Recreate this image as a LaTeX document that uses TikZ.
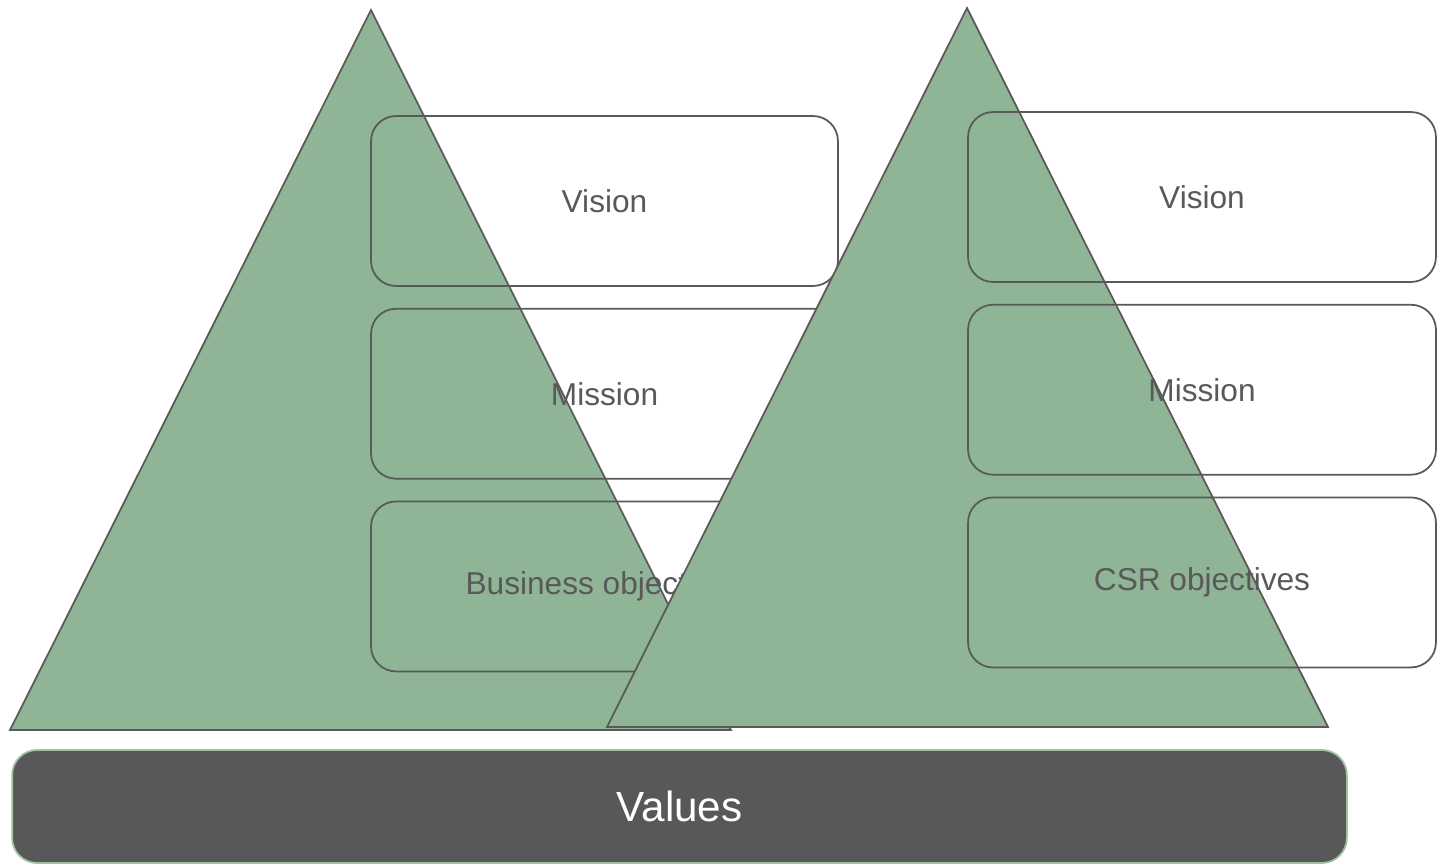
\documentclass[tikz,border=0pt]{standalone}
\usepackage{fontspec}
\setmainfont{Liberation Sans}
\usepackage{tikz}
\usepackage{xcolor}
\usetikzlibrary{positioning}

\definecolor{pyrgreen}{HTML}{8FB596}
\definecolor{edgegray}{HTML}{595959}
\definecolor{valgray}{HTML}{58585A}
\definecolor{valedge}{HTML}{9BC49F}

\tikzset{
	pyramid/.style={fill=pyrgreen, draw=edgegray, line width=1pt, line join=miter},
	levelbox/.style={draw=edgegray, line width=1pt, rounded corners=0.5cm,
		minimum height=3.4cm, text=edgegray, font=\fontsize{18}{21}\selectfont},
	valuebar/.style={fill=valgray, draw=valedge, line width=1pt, rounded corners=0.5cm,
		minimum width=26.7cm, minimum height=2.26cm, text=white, font=\fontsize{24}{28}\selectfont}
}

\begin{document}
\begin{tikzpicture}[x=0.02cm,y=-0.02cm]
	\useasboundingbox (0,0) rectangle (1441,865);

	% left pyramid
	\coordinate (ltop) at (371,10);
	\coordinate (lleft) at (10,730);
	\coordinate (lright) at (731,730);
	\draw[pyramid] (ltop) -- (lright) -- (lleft) -- cycle;

	% left levels
	\node[levelbox, minimum width=9.34cm] (lvision) at (604.5,201) {Vision};
	\node[levelbox, minimum width=9.34cm, below=0.42cm of lvision] (lmission) {Mission};
	\node[levelbox, minimum width=9.34cm, below=0.42cm of lmission] (lbusiness) {Business objectives};

	% right pyramid
	\coordinate (rtop) at (967,8);
	\coordinate (rleft) at (607,727);
	\coordinate (rright) at (1328,727);
	\draw[pyramid] (rtop) -- (rright) -- (rleft) -- cycle;

	% right levels
	\node[levelbox, minimum width=9.36cm] (rvision) at (1202,197) {Vision};
	\node[levelbox, minimum width=9.36cm, below=0.42cm of rvision] (rmission) {Mission};
	\node[levelbox, minimum width=9.36cm, below=0.42cm of rmission] (rcsr) {CSR objectives};

	% base
	\node[valuebar] (values) at (679.5,806.5) {Values};
\end{tikzpicture}
\end{document}
